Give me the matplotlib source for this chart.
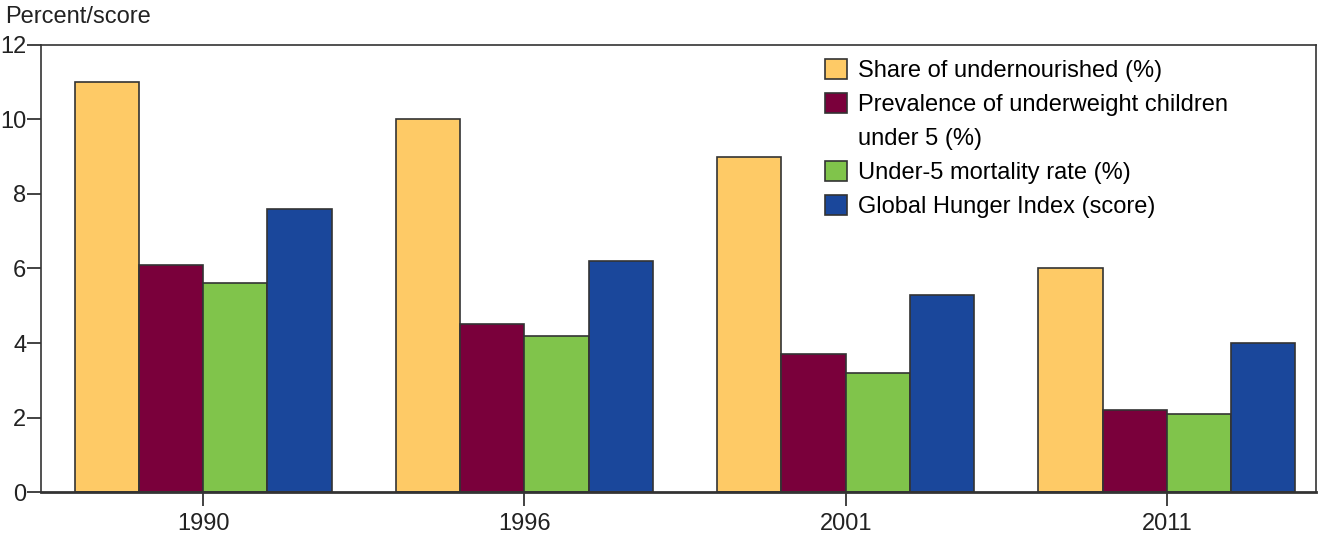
import matplotlib.pyplot as plt
import matplotlib.patches as mpatches
import numpy as np

plt.rcParams['font.family'] = ['Liberation Sans', 'DejaVu Sans']

years = ['1990', '1996', '2001', '2011']
series_names = ['Share of undernourished (%)',
                'Prevalence of underweight children',
                'Under-5 mortality rate (%)',
                'Global Hunger Index (score)']
undernourished = [11.0, 10.0, 9.0, 6.0]
underweight = [6.1, 4.5, 3.7, 2.2]
mortality = [5.6, 4.2, 3.2, 2.1]
ghi = [7.6, 6.2, 5.3, 4.0]

colors = ['#FECA66', '#7A003B', '#80C44B', '#1A479B']
edge = '#333333'

fig = plt.figure(figsize=(13.28, 5.33), dpi=100)
ax = fig.add_axes([0.0312, 0.0769, 0.9598, 0.8387])

x = np.arange(len(years))
w = 0.2
for i, vals in enumerate([undernourished, underweight, mortality, ghi]):
    ax.bar(x + (i - 1.5) * w, vals, width=w, color=colors[i], edgecolor=edge,
           linewidth=1.2, label=series_names[i], zorder=2)

ax.set_xlim(-0.503, 3.464)
ax.set_ylim(0, 12)
ax.set_yticks(range(0, 13, 2))
ax.set_xticks(x)
ax.set_xticklabels(years)
ax.tick_params(axis='both', labelsize=17, colors='#222222', width=1.2)
ax.tick_params(axis='y', length=10, pad=1)
ax.tick_params(axis='x', length=10, pad=5)
for s in ax.spines.values():
    s.set_linewidth(1.2)
    s.set_color('#333333')
ax.spines['bottom'].set_linewidth(2)

fig.text(0.004, 0.968, 'Percent/score', fontsize=17, color='#222222', va='center')

# second line of the underweight label gets a blank handle
handles, labels = ax.get_legend_handles_labels()
blank = mpatches.Patch(facecolor='none', edgecolor='none')
handles.insert(2, blank)
labels.insert(2, 'under 5 (%)')
ax.legend(handles, labels, loc='upper left', bbox_to_anchor=(0.607, 0.99),
          frameon=False, fontsize=17, handlelength=0.95, handleheight=0.95,
          handletextpad=0.45, labelspacing=0.45, borderaxespad=0)

plt.savefig('out.png', dpi=100)
